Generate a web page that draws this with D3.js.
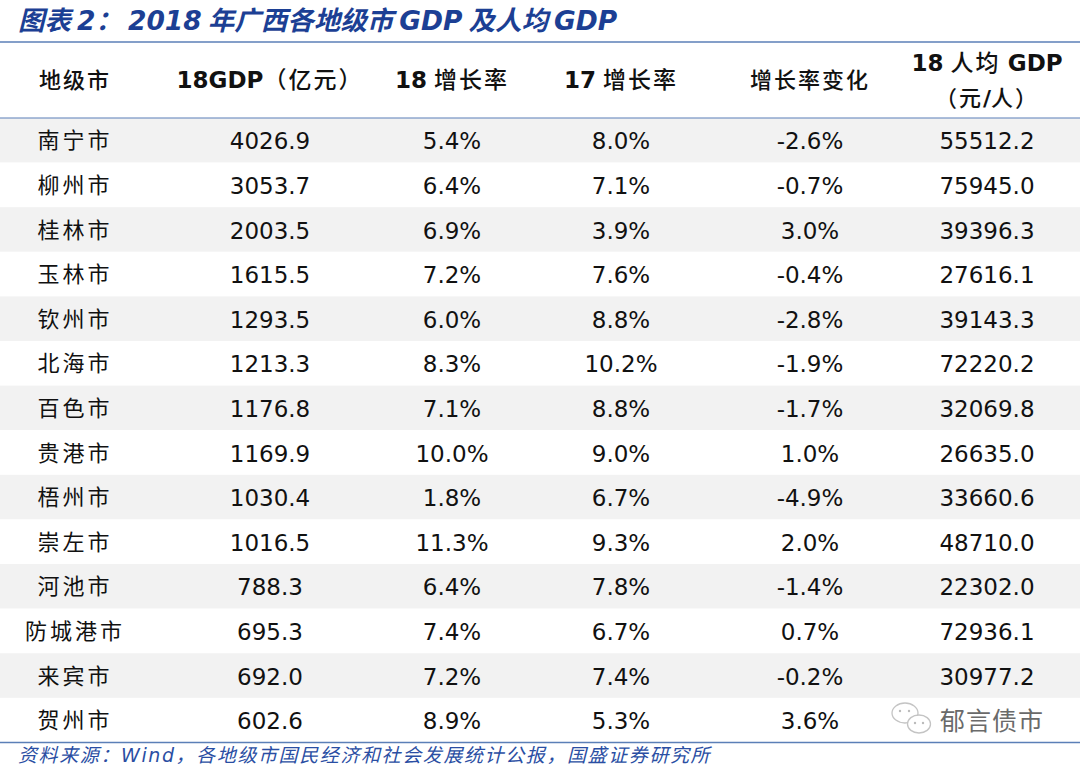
<!DOCTYPE html>
<html><head><meta charset="utf-8">
<script src="https://cdn.jsdelivr.net/npm/d3@7/dist/d3.min.js"></script>
<style>
html,body{margin:0;padding:0;background:#fff;}
svg{display:block;}
</style></head>
<body><svg id="c" width="1080" height="769"></svg>
<script>
const cities = ["南宁市","柳州市","桂林市","玉林市","钦州市","北海市","百色市","贵港市","梧州市","崇左市","河池市","防城港市","来宾市","贺州市"];
const gdp18 = ["4026.9","3053.7","2003.5","1615.5","1293.5","1213.3","1176.8","1169.9","1030.4","1016.5","788.3","695.3","692.0","602.6"];
const growth18 = ["5.4%","6.4%","6.9%","7.2%","6.0%","8.3%","7.1%","10.0%","1.8%","11.3%","6.4%","7.4%","7.2%","8.9%"];
const growth17 = ["8.0%","7.1%","3.9%","7.6%","8.8%","10.2%","8.8%","9.0%","6.7%","9.3%","7.8%","6.7%","7.4%","5.3%"];
const growthChange = ["-2.6%","-0.7%","3.0%","-0.4%","-2.8%","-1.9%","-1.7%","1.0%","-4.9%","2.0%","-1.4%","0.7%","-0.2%","3.6%"];
// last value is hidden under the watermark in the reference (estimated)
const perCapita = ["55512.2","75945.0","39396.3","27616.1","39143.3","72220.2","32069.8","26635.0","33660.6","48710.0","22302.0","72936.1","30977.2","29806.0"];
const columnKeys = ["city","gdp18","growth18","growth17","change","perCapita"];

const rows = cities.map((c,i)=>({city:c,gdp18:gdp18[i],growth18:growth18[i],growth17:growth17[i],change:growthChange[i],perCapita:perCapita[i]}));

const svg = d3.select("#c");
const W = 1080;
const numFont = "'DejaVu Sans', Verdana, sans-serif";
const cjkFont = "'Noto Sans CJK SC', sans-serif";

const x = d3.scaleOrdinal().domain(columnKeys).range([75,270,452,621,810,987]);
const y = d3.scaleBand().domain(d3.range(rows.length)).range([118,742.5]).paddingInner(0).paddingOuter(0);

// title
const t = svg.append("text").attr("x",18).attr("y",30).attr("fill","#1c3f94")
  .attr("font-size",26.5).attr("font-weight","bold").attr("font-style","italic");
t.append("tspan").attr("font-family",cjkFont).text("图表 ");
t.append("tspan").attr("font-family",numFont).text("2");
t.append("tspan").attr("font-family",cjkFont).text("： ");
t.append("tspan").attr("font-family",numFont).text("2018");
t.append("tspan").attr("font-family",cjkFont).text(" 年广西各地级市 ");
t.append("tspan").attr("font-family",numFont).text("GDP");
t.append("tspan").attr("font-family",cjkFont).text(" 及人均 ");
t.append("tspan").attr("font-family",numFont).text("GDP");

// row shading
svg.append("g").selectAll("rect").data(rows).join("rect")
  .attr("x",0).attr("width",W).attr("y",(d,i)=>y(i)).attr("height",y.bandwidth())
  .attr("fill",(d,i)=>i%2===0?"#f2f2f2":"#ffffff");

// rules
const ruleColor = "#5b7fb7";
[42,118,742.5].forEach(yy=>{
  svg.append("line").attr("x1",0).attr("x2",W).attr("y1",yy).attr("y2",yy)
    .attr("stroke",ruleColor).attr("stroke-width",yy===118?1.2:1.6);
});

// header
const hdr = svg.append("g").attr("font-weight","bold").attr("fill","#111").attr("text-anchor","middle");
function mixed(g, xx, yy, parts, size){
  const tx = g.append("text").attr("x",xx).attr("y",yy).attr("font-size",size);
  parts.forEach(p=>tx.append("tspan").attr("font-family",p[1]?numFont:cjkFont)
    .attr("font-weight",p[1]?"bold":"500").attr("letter-spacing",p[1]?0:2).text(p[0]));
  return tx;
}
mixed(hdr, x("city"), 88, [["地级市",false]], 22);
mixed(hdr, x("gdp18"), 88, [["18GDP",true],["（亿元）",false]], 23);
mixed(hdr, x("growth18"), 88, [["18",true],[" 增长率",false]], 23);
mixed(hdr, x("growth17"), 88, [["17",true],[" 增长率",false]], 23);
mixed(hdr, x("change"), 88, [["增长率变化",false]], 22);
mixed(hdr, x("perCapita"), 71, [["18",true],[" 人均 ",false],["GDP",true]], 23);
mixed(hdr, x("perCapita"), 106, [["（元",false],["/",true],["人）",false]], 22);

// body
const body = svg.append("g").attr("text-anchor","middle").attr("fill","#111");
rows.forEach((r,i)=>{
  const cy = y(i)+y.bandwidth()/2;
  body.append("text").attr("x",x("city")).attr("y",cy+8).attr("font-family",cjkFont)
    .attr("font-size",22).attr("letter-spacing",3).text(r.city);
  ["gdp18","growth18","growth17","change","perCapita"].forEach(k=>{
    body.append("text").attr("x",x(k)).attr("y",cy+9).attr("font-family",numFont)
      .attr("font-size",23).text(r[k]);
  });
});

// watermark (covers last per-capita value, as in the reference)
const wm = svg.append("g");
wm.append("rect").attr("x",884).attr("y",701).attr("width",166).attr("height",38).attr("fill","#ffffff");
wm.append("ellipse").attr("cx",905).attr("cy",713).attr("rx",13).attr("ry",10).attr("fill","#fff").attr("stroke","#c4c4c4").attr("stroke-width",1.3);
wm.append("ellipse").attr("cx",919).attr("cy",724).attr("rx",11.5).attr("ry",9).attr("fill","#fff").attr("stroke","#c4c4c4").attr("stroke-width",1.3);
[[900,711],[909,711],[915,723],[923,723]].forEach(p=>wm.append("circle").attr("cx",p[0]).attr("cy",p[1]).attr("r",1.2).attr("fill","#bbb"));
wm.append("text").attr("x",940).attr("y",730).attr("font-family",cjkFont).attr("font-size",25)
  .attr("fill","#6a6a6a").attr("letter-spacing",1).text("郁言债市");

// source
const s = svg.append("text").attr("x",18).attr("y",762).attr("fill","#2a4ea3")
  .attr("font-size",19).attr("font-style","italic").attr("letter-spacing",1.6);
s.append("tspan").attr("font-family",cjkFont).text("资料来源：");
s.append("tspan").attr("font-family",numFont).text("Wind");
s.append("tspan").attr("font-family",cjkFont).text("，各地级市国民经济和社会发展统计公报，国盛证券研究所");
</script></body></html>
